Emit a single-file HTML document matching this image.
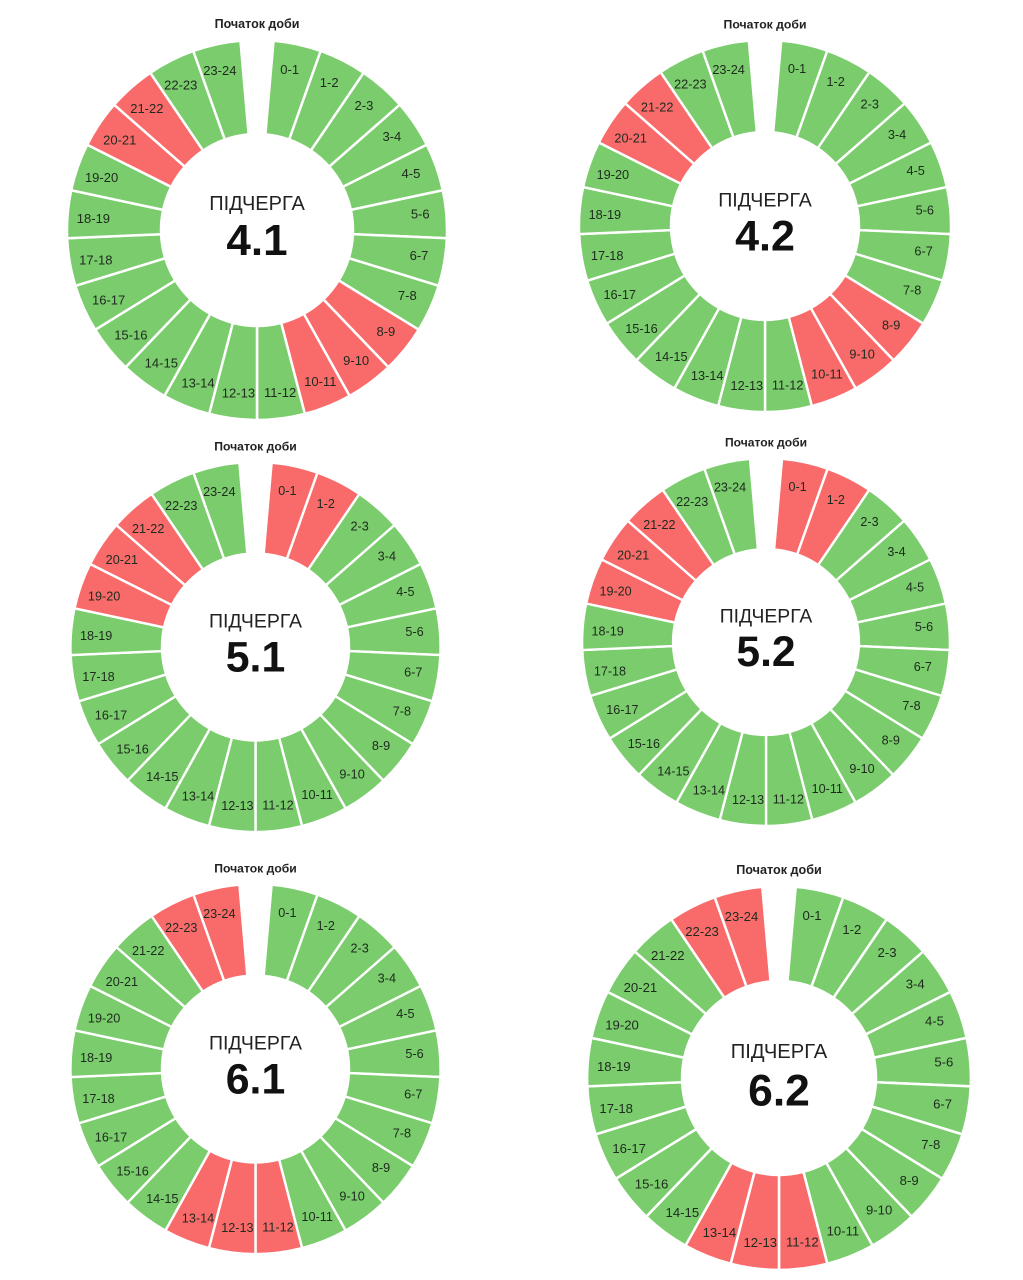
<!DOCTYPE html>
<html><head><meta charset="utf-8"><style>
html,body{margin:0;padding:0;background:#fff;}
svg{display:block;}
.l{font-family:"Liberation Sans","DejaVu Sans",sans-serif;font-size:13px;fill:#1e2a1e;text-anchor:middle;}
.t{font-family:"Liberation Sans","DejaVu Sans",sans-serif;font-size:12.5px;font-weight:bold;fill:#222;text-anchor:middle;}
.p{font-family:"Liberation Sans","DejaVu Sans",sans-serif;font-size:20px;fill:#222;text-anchor:middle;}
.n{font-family:"Liberation Sans","DejaVu Sans",sans-serif;font-size:44px;font-weight:bold;fill:#111;text-anchor:middle;}
.g{fill:#7acc6c}.r{fill:#f96b6b}
</style></head><body>
<svg width="1023" height="1280" viewBox="0 0 1023 1280" xmlns="http://www.w3.org/2000/svg">
<defs>
<path id="s" d="M0,-190 A190,190 0 0 1 47.84,-183.88 L24.17,-92.91 A96,96 0 0 0 0,-96 Z" stroke="#fff" stroke-width="2.5"/>
<g id="lab">
<text class="l" transform="rotate(11.5) translate(0,-164) rotate(-11.5)" dy="4.5">0-1</text>
<text class="l" transform="rotate(26.1) translate(0,-164) rotate(-26.1)" dy="4.5">1-2</text>
<text class="l" transform="rotate(40.7) translate(0,-164) rotate(-40.7)" dy="4.5">2-3</text>
<text class="l" transform="rotate(55.3) translate(0,-164) rotate(-55.3)" dy="4.5">3-4</text>
<text class="l" transform="rotate(69.8) translate(0,-164) rotate(-69.8)" dy="4.5">4-5</text>
<text class="l" transform="rotate(84.4) translate(0,-164) rotate(-84.4)" dy="4.5">5-6</text>
<text class="l" transform="rotate(99) translate(0,-164) rotate(-99)" dy="4.5">6-7</text>
<text class="l" transform="rotate(113.6) translate(0,-164) rotate(-113.6)" dy="4.5">7-8</text>
<text class="l" transform="rotate(128.2) translate(0,-164) rotate(-128.2)" dy="4.5">8-9</text>
<text class="l" transform="rotate(142.8) translate(0,-164) rotate(-142.8)" dy="4.5">9-10</text>
<text class="l" transform="rotate(157.3) translate(0,-164) rotate(-157.3)" dy="4.5">10-11</text>
<text class="l" transform="rotate(171.9) translate(0,-164) rotate(-171.9)" dy="4.5">11-12</text>
<text class="l" transform="rotate(186.5) translate(0,-164) rotate(-186.5)" dy="4.5">12-13</text>
<text class="l" transform="rotate(201.1) translate(0,-164) rotate(-201.1)" dy="4.5">13-14</text>
<text class="l" transform="rotate(215.7) translate(0,-164) rotate(-215.7)" dy="4.5">14-15</text>
<text class="l" transform="rotate(230.3) translate(0,-164) rotate(-230.3)" dy="4.5">15-16</text>
<text class="l" transform="rotate(244.8) translate(0,-164) rotate(-244.8)" dy="4.5">16-17</text>
<text class="l" transform="rotate(259.4) translate(0,-164) rotate(-259.4)" dy="4.5">17-18</text>
<text class="l" transform="rotate(274) translate(0,-164) rotate(-274)" dy="4.5">18-19</text>
<text class="l" transform="rotate(288.6) translate(0,-164) rotate(-288.6)" dy="4.5">19-20</text>
<text class="l" transform="rotate(303.2) translate(0,-164) rotate(-303.2)" dy="4.5">20-21</text>
<text class="l" transform="rotate(317.8) translate(0,-164) rotate(-317.8)" dy="4.5">21-22</text>
<text class="l" transform="rotate(332.3) translate(0,-164) rotate(-332.3)" dy="4.5">22-23</text>
<text class="l" transform="rotate(346.9) translate(0,-164) rotate(-346.9)" dy="4.5">23-24</text>
<text class="t" y="-202">Початок доби</text>
<text class="p" y="-20">ПІДЧЕРГА</text>
</g>
</defs>

<!-- Chart 4.1 -->
<g transform="translate(257,230) scale(1)">
<use href="#s" class="g" transform="rotate(5)"/><use href="#s" class="g" transform="rotate(19.583)"/><use href="#s" class="g" transform="rotate(34.167)"/><use href="#s" class="g" transform="rotate(48.75)"/><use href="#s" class="g" transform="rotate(63.333)"/><use href="#s" class="g" transform="rotate(77.917)"/><use href="#s" class="g" transform="rotate(92.5)"/><use href="#s" class="g" transform="rotate(107.083)"/><use href="#s" class="r" transform="rotate(121.667)"/><use href="#s" class="r" transform="rotate(136.25)"/><use href="#s" class="r" transform="rotate(150.833)"/><use href="#s" class="g" transform="rotate(165.417)"/><use href="#s" class="g" transform="rotate(180)"/><use href="#s" class="g" transform="rotate(194.583)"/><use href="#s" class="g" transform="rotate(209.167)"/><use href="#s" class="g" transform="rotate(223.75)"/><use href="#s" class="g" transform="rotate(238.333)"/><use href="#s" class="g" transform="rotate(252.917)"/><use href="#s" class="g" transform="rotate(267.5)"/><use href="#s" class="g" transform="rotate(282.083)"/><use href="#s" class="r" transform="rotate(296.667)"/><use href="#s" class="r" transform="rotate(311.25)"/><use href="#s" class="g" transform="rotate(325.833)"/><use href="#s" class="g" transform="rotate(340.417)"/>
<use href="#lab"/><text class="n" y="25">4.1</text>
</g>

<!-- Chart 4.2 -->
<g transform="translate(765,226) scale(0.979)">
<use href="#s" class="g" transform="rotate(5)"/><use href="#s" class="g" transform="rotate(19.583)"/><use href="#s" class="g" transform="rotate(34.167)"/><use href="#s" class="g" transform="rotate(48.75)"/><use href="#s" class="g" transform="rotate(63.333)"/><use href="#s" class="g" transform="rotate(77.917)"/><use href="#s" class="g" transform="rotate(92.5)"/><use href="#s" class="g" transform="rotate(107.083)"/><use href="#s" class="r" transform="rotate(121.667)"/><use href="#s" class="r" transform="rotate(136.25)"/><use href="#s" class="r" transform="rotate(150.833)"/><use href="#s" class="g" transform="rotate(165.417)"/><use href="#s" class="g" transform="rotate(180)"/><use href="#s" class="g" transform="rotate(194.583)"/><use href="#s" class="g" transform="rotate(209.167)"/><use href="#s" class="g" transform="rotate(223.75)"/><use href="#s" class="g" transform="rotate(238.333)"/><use href="#s" class="g" transform="rotate(252.917)"/><use href="#s" class="g" transform="rotate(267.5)"/><use href="#s" class="g" transform="rotate(282.083)"/><use href="#s" class="r" transform="rotate(296.667)"/><use href="#s" class="r" transform="rotate(311.25)"/><use href="#s" class="g" transform="rotate(325.833)"/><use href="#s" class="g" transform="rotate(340.417)"/>
<use href="#lab"/><text class="n" y="25">4.2</text>
</g>

<!-- Chart 5.1 -->
<g transform="translate(255.5,647) scale(0.974)">
<use href="#s" class="r" transform="rotate(5)"/><use href="#s" class="r" transform="rotate(19.583)"/><use href="#s" class="g" transform="rotate(34.167)"/><use href="#s" class="g" transform="rotate(48.75)"/><use href="#s" class="g" transform="rotate(63.333)"/><use href="#s" class="g" transform="rotate(77.917)"/><use href="#s" class="g" transform="rotate(92.5)"/><use href="#s" class="g" transform="rotate(107.083)"/><use href="#s" class="g" transform="rotate(121.667)"/><use href="#s" class="g" transform="rotate(136.25)"/><use href="#s" class="g" transform="rotate(150.833)"/><use href="#s" class="g" transform="rotate(165.417)"/><use href="#s" class="g" transform="rotate(180)"/><use href="#s" class="g" transform="rotate(194.583)"/><use href="#s" class="g" transform="rotate(209.167)"/><use href="#s" class="g" transform="rotate(223.75)"/><use href="#s" class="g" transform="rotate(238.333)"/><use href="#s" class="g" transform="rotate(252.917)"/><use href="#s" class="g" transform="rotate(267.5)"/><use href="#s" class="r" transform="rotate(282.083)"/><use href="#s" class="r" transform="rotate(296.667)"/><use href="#s" class="r" transform="rotate(311.25)"/><use href="#s" class="g" transform="rotate(325.833)"/><use href="#s" class="g" transform="rotate(340.417)"/>
<use href="#lab"/><text class="n" y="25">5.1</text>
</g>

<!-- Chart 5.2 -->
<g transform="translate(766,642) scale(0.968)">
<use href="#s" class="r" transform="rotate(5)"/><use href="#s" class="r" transform="rotate(19.583)"/><use href="#s" class="g" transform="rotate(34.167)"/><use href="#s" class="g" transform="rotate(48.75)"/><use href="#s" class="g" transform="rotate(63.333)"/><use href="#s" class="g" transform="rotate(77.917)"/><use href="#s" class="g" transform="rotate(92.5)"/><use href="#s" class="g" transform="rotate(107.083)"/><use href="#s" class="g" transform="rotate(121.667)"/><use href="#s" class="g" transform="rotate(136.25)"/><use href="#s" class="g" transform="rotate(150.833)"/><use href="#s" class="g" transform="rotate(165.417)"/><use href="#s" class="g" transform="rotate(180)"/><use href="#s" class="g" transform="rotate(194.583)"/><use href="#s" class="g" transform="rotate(209.167)"/><use href="#s" class="g" transform="rotate(223.75)"/><use href="#s" class="g" transform="rotate(238.333)"/><use href="#s" class="g" transform="rotate(252.917)"/><use href="#s" class="g" transform="rotate(267.5)"/><use href="#s" class="r" transform="rotate(282.083)"/><use href="#s" class="r" transform="rotate(296.667)"/><use href="#s" class="r" transform="rotate(311.25)"/><use href="#s" class="g" transform="rotate(325.833)"/><use href="#s" class="g" transform="rotate(340.417)"/>
<use href="#lab"/><text class="n" y="25">5.2</text>
</g>

<!-- Chart 6.1 -->
<g transform="translate(255.5,1069) scale(0.974)">
<use href="#s" class="g" transform="rotate(5)"/><use href="#s" class="g" transform="rotate(19.583)"/><use href="#s" class="g" transform="rotate(34.167)"/><use href="#s" class="g" transform="rotate(48.75)"/><use href="#s" class="g" transform="rotate(63.333)"/><use href="#s" class="g" transform="rotate(77.917)"/><use href="#s" class="g" transform="rotate(92.5)"/><use href="#s" class="g" transform="rotate(107.083)"/><use href="#s" class="g" transform="rotate(121.667)"/><use href="#s" class="g" transform="rotate(136.25)"/><use href="#s" class="g" transform="rotate(150.833)"/><use href="#s" class="r" transform="rotate(165.417)"/><use href="#s" class="r" transform="rotate(180)"/><use href="#s" class="r" transform="rotate(194.583)"/><use href="#s" class="g" transform="rotate(209.167)"/><use href="#s" class="g" transform="rotate(223.75)"/><use href="#s" class="g" transform="rotate(238.333)"/><use href="#s" class="g" transform="rotate(252.917)"/><use href="#s" class="g" transform="rotate(267.5)"/><use href="#s" class="g" transform="rotate(282.083)"/><use href="#s" class="g" transform="rotate(296.667)"/><use href="#s" class="g" transform="rotate(311.25)"/><use href="#s" class="r" transform="rotate(325.833)"/><use href="#s" class="r" transform="rotate(340.417)"/>
<use href="#lab"/><text class="n" y="25">6.1</text>
</g>

<!-- Chart 6.2 -->
<g transform="translate(779,1078) scale(1.01)">
<use href="#s" class="g" transform="rotate(5)"/><use href="#s" class="g" transform="rotate(19.583)"/><use href="#s" class="g" transform="rotate(34.167)"/><use href="#s" class="g" transform="rotate(48.75)"/><use href="#s" class="g" transform="rotate(63.333)"/><use href="#s" class="g" transform="rotate(77.917)"/><use href="#s" class="g" transform="rotate(92.5)"/><use href="#s" class="g" transform="rotate(107.083)"/><use href="#s" class="g" transform="rotate(121.667)"/><use href="#s" class="g" transform="rotate(136.25)"/><use href="#s" class="g" transform="rotate(150.833)"/><use href="#s" class="r" transform="rotate(165.417)"/><use href="#s" class="r" transform="rotate(180)"/><use href="#s" class="r" transform="rotate(194.583)"/><use href="#s" class="g" transform="rotate(209.167)"/><use href="#s" class="g" transform="rotate(223.75)"/><use href="#s" class="g" transform="rotate(238.333)"/><use href="#s" class="g" transform="rotate(252.917)"/><use href="#s" class="g" transform="rotate(267.5)"/><use href="#s" class="g" transform="rotate(282.083)"/><use href="#s" class="g" transform="rotate(296.667)"/><use href="#s" class="g" transform="rotate(311.25)"/><use href="#s" class="r" transform="rotate(325.833)"/><use href="#s" class="r" transform="rotate(340.417)"/>
<use href="#lab"/><text class="n" y="27">6.2</text>
</g>
</svg>
</body></html>
